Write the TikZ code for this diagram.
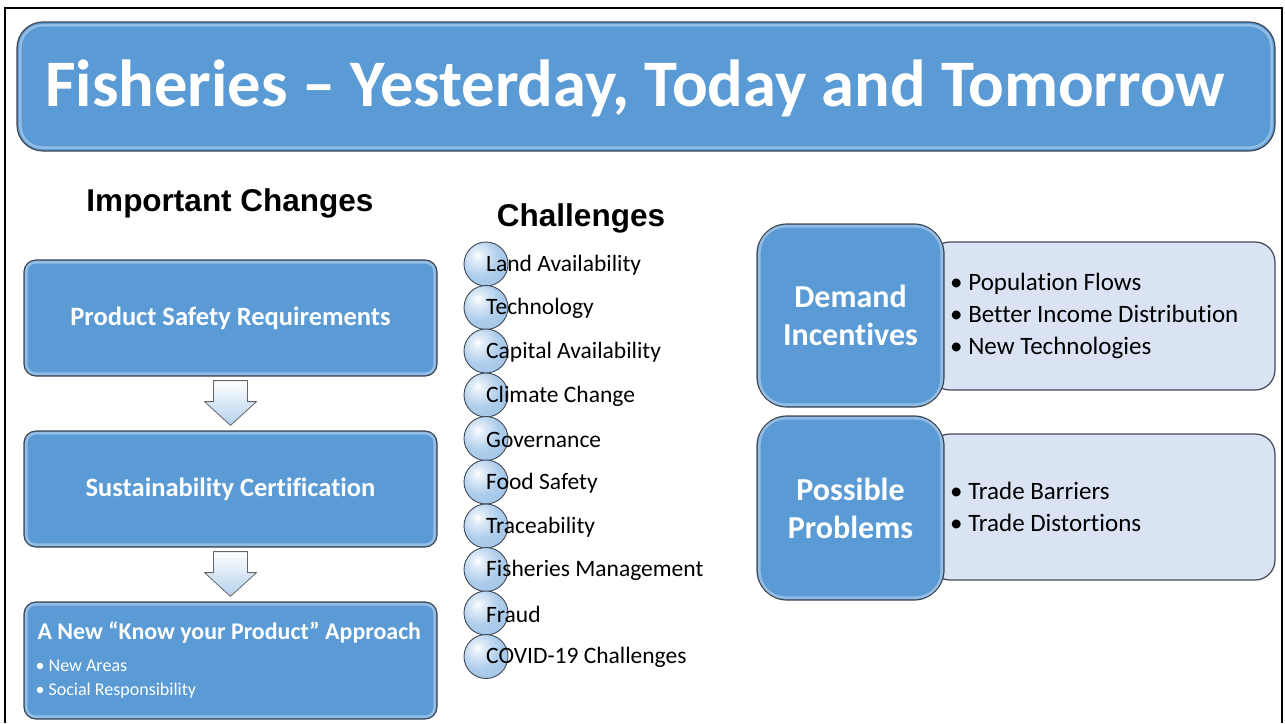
\documentclass[tikz,border=0pt]{standalone}
\usepackage{fontspec}
\setmainfont{Carlito}[Ligatures=NoCommon]
\newfontfamily\arialf{Liberation Sans}
\usetikzlibrary{calc}
\definecolor{mainblue}{RGB}{91,155,213}
\definecolor{lightbox}{RGB}{218,227,243}
\definecolor{edgegray}{RGB}{64,72,84}
\definecolor{ballblue}{RGB}{160,196,232}
\pgfdeclareradialshading{glassball}{\pgfpoint{-10bp}{10bp}}{%
  color(0bp)=(white); color(6bp)=(white!70!ballblue); color(22bp)=(ballblue!85); color(40bp)=(ballblue); color(60bp)=(ballblue!75!black); color(100bp)=(ballblue!75!black)}
\tikzset{
  bluebox/.style={draw=edgegray, line width=1.2pt, fill=mainblue, inner sep=0pt, text=white, font=\bfseries, align=center},
  palebox/.style={draw=edgegray, line width=1.2pt, fill=lightbox, inner sep=0pt, rounded corners=20pt},
  gloss/.style={draw=white, opacity=0.35, line width=2.5pt},
  ball/.style={circle, draw=edgegray, line width=0.9pt, shading=glassball, minimum size=44pt, inner sep=0pt},
  itemtext/.style={anchor=west, inner sep=0pt, font=\fontsize{23.5}{26}\selectfont, text=black},
  blockarrow/.style={draw=gray!80!black, line width=0.8pt, top color=white, bottom color=ballblue!80, line join=round},
  heading/.style={font=\arialf\bfseries\fontsize{31.5}{36}\selectfont, inner sep=0pt},
  bullets/.style={anchor=west, align=left, inner sep=0pt, text=black, font=\fontsize{25}{32}\selectfont}
}
\begin{document}
\begin{tikzpicture}[x=1pt,y=-1pt]
\useasboundingbox (0,0) rectangle (1285,723);
% outer frame
\draw[line width=2pt] (5,723) -- (5,8) -- (1282,8) -- (1282,723);

% title
\node[bluebox, rounded corners=26pt, minimum width=1258pt, minimum height=129pt] (title) at (646,86.5) {};
\draw[gloss, rounded corners=22pt] ($(title.north west)+(4,4)$) rectangle ($(title.south east)+(-4,-4)$);
\node[anchor=west, text=white, font=\bfseries\fontsize{66.5}{70}\selectfont, inner sep=0pt] (titletext) at (45,88) {Fisheries – Yesterday, Today and Tomorrow};

% headings
\node[heading] (h1) at (230,203) {Important Changes};
\node[heading] (h2) at (581,218) {Challenges};

% left column
\node[bluebox, rounded corners=12pt, minimum width=413pt, minimum height=116pt,
      font=\bfseries\fontsize{26.5}{30}\selectfont] (b1) at (230.5,318) {Product Safety Requirements};
\node[bluebox, rounded corners=12pt, minimum width=413pt, minimum height=116pt,
      font=\bfseries\fontsize{26.5}{30}\selectfont] (b2) at (230.5,489) {Sustainability Certification};
\node[bluebox, rounded corners=12pt, minimum width=413pt, minimum height=117pt] (b3) at (230.5,660.5) {};
\foreach \b in {b1,b2,b3}{
  \draw[gloss, rounded corners=9pt] ($(\b.north west)+(3,3)$) rectangle ($(\b.south east)+(-3,-3)$);
}
\node[anchor=west, inner sep=0pt, text=white, font=\bfseries\fontsize{23.9}{27}\selectfont] (b3title) at ($(b3.west)+(14,-27.5)$) {A New “Know your Product” Approach};
\node[anchor=west, inner sep=0pt, text=white, align=left, font=\fontsize{18}{24}\selectfont] (b3list) at ($(b3.west)+(12,18.5)$) {• New Areas\\• Social Responsibility};

% block arrows
\draw[blockarrow] ($(b1.south)+(-17,4)$) -- ($(b1.south)+(17,4)$) -- ($(b1.south)+(17,25)$) -- ($(b1.south)+(26,25)$)
   -- ($(b2.north)+(0,-5)$) -- ($(b1.south)+(-26,25)$) -- ($(b1.south)+(-17,25)$) -- cycle;
\draw[blockarrow] ($(b2.south)+(-17,4)$) -- ($(b2.south)+(17,4)$) -- ($(b2.south)+(17,25)$) -- ($(b2.south)+(26,25)$)
   -- ($(b3.north)+(0,-5)$) -- ($(b2.south)+(-26,25)$) -- ($(b2.south)+(-17,25)$) -- cycle;

% challenges list
\foreach \i/\y/\t in {1/264/Land Availability, 2/307.5/Technology, 3/351/Capital Availability,
  4/395/Climate Change, 5/438.5/Governance, 6/482/Food Safety, 7/526/Traceability,
  8/569.5/Fisheries Management, 9/613/Fraud, 10/656.5/COVID-19 Challenges}{
  \node[ball] (c\i) at (486,\y) {};
  \node[itemtext] (t\i) at (486,\y+1) {\t};
}

% right panels
\node[palebox, minimum width=345pt, minimum height=148pt] (dl) at (1102.5,316) {};
\node[bluebox, rounded corners=30pt, minimum width=187pt, minimum height=183pt,
      font=\bfseries\fontsize{32}{38}\selectfont] (dh) at (850.5,315.5) {Demand\\Incentives};
\node[bullets] (dt) at (950,316) {• Population Flows\\• Better Income Distribution\\• New Technologies};

\node[palebox, minimum width=345pt, minimum height=146pt] (pl) at (1102.5,507) {};
\node[bluebox, rounded corners=30pt, minimum width=187pt, minimum height=184pt,
      font=\bfseries\fontsize{32}{38}\selectfont] (ph) at (850.5,508) {Possible\\Problems};
\node[bullets] (pt) at (950,507) {• Trade Barriers\\• Trade Distortions};
\foreach \b in {dh,ph}{
  \draw[gloss, rounded corners=26pt] ($(\b.north west)+(3,3)$) rectangle ($(\b.south east)+(-3,-3)$);
}
\end{tikzpicture}
\end{document}
